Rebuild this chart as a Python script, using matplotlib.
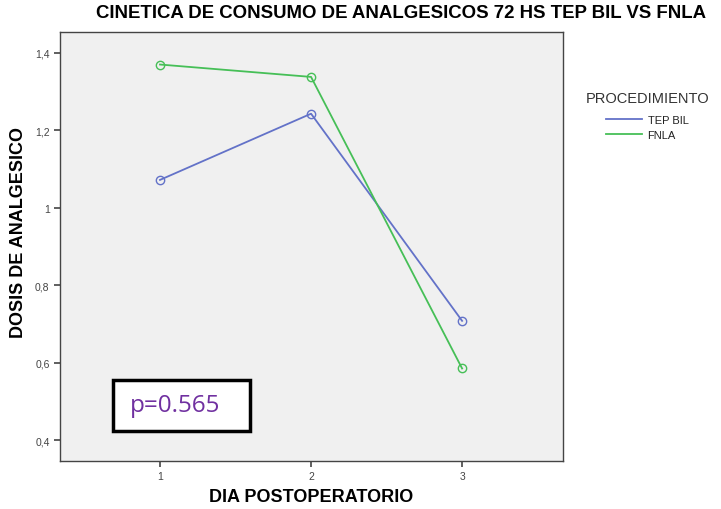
import matplotlib.pyplot as plt
from matplotlib.patches import Rectangle
from matplotlib.lines import Line2D

plt.rcParams['font.family'] = ['Liberation Sans', 'DejaVu Sans']

# Dosis media por dia postoperatorio
dias = [1, 2, 3]
tep_bil = [1.072, 1.243, 0.708]
fnla = [1.370, 1.338, 0.585]
y_ticks = [0.4, 0.6, 0.8, 1.0, 1.2, 1.4]
y_labels = ['0,4', '0,6', '0,8', '1', '1,2', '1,4']

azul = '#6372c8'
verde = '#46bf57'

fig = plt.figure(figsize=(7.21, 5.10), dpi=100)
ax = fig.add_axes([60 / 721, 1 - 462 / 510, 503 / 721, 429 / 510])
ax.set_facecolor('#f0f0f0')

ax.plot(dias, tep_bil, color=azul, lw=1.3, marker='o', ms=6,
        mfc='none', mec=azul, mew=1.0)
ax.plot(dias, fnla, color=verde, lw=1.3, marker='o', ms=6,
        mfc='none', mec=verde, mew=1.0)

ax.set_xlim(0.338, 3.668)
ax.set_ylim(0.346, 1.454)
ax.set_xticks(dias)
ax.set_xticklabels(['1', '2', '3'])
ax.set_yticks(y_ticks)
ax.set_yticklabels(y_labels)
ax.tick_params(labelsize=7.5, colors='#444444', length=4, width=1.2)
for s in ax.spines.values():
    s.set_color('#444444')
    s.set_linewidth(1.0)

ax.set_xlabel('DIA POSTOPERATORIO', fontsize=13, fontweight='bold', labelpad=5)
ax.set_ylabel('DOSIS DE ANALGESICO', fontsize=13, fontweight='bold')
ax.yaxis.set_label_coords(-0.066, 0.536)
fig.text(401 / 721, 1 - 14 / 510, 'CINETICA DE CONSUMO DE ANALGESICOS 72 HS TEP BIL VS FNLA',
         ha='center', va='center', fontsize=13.4, fontweight='bold')

handles = [Line2D([], [], color=azul, lw=1.3), Line2D([], [], color=verde, lw=1.3)]
leg = ax.legend(handles, ['TEP BIL', 'FNLA'], title='PROCEDIMIENTO', loc='upper left',
                bbox_to_anchor=(1.025, 0.885), frameon=False, fontsize=8,
                title_fontsize=10.5, handlelength=3.2, labelspacing=0.45,
                handletextpad=0.5)
leg._legend_box.align = 'center'
leg._legend_box.sep = 7
leg.get_title().set_color('#333333')
for t in leg.get_texts():
    t.set_color('#222222')

# recuadro con el valor p
ax.add_patch(Rectangle((113 / 721, 1 - 432 / 510), 137 / 721, 51 / 510,
                       transform=fig.transFigure, facecolor='white',
                       edgecolor='black', lw=2.5, zorder=5, clip_on=False))
fig.text(130 / 721, 1 - 406 / 510, 'p=0.565', color='#7030a0', fontsize=17.5,
         family=['Open Sans', 'DejaVu Sans'], va='center', ha='left', zorder=6)

fig.savefig('out.png', dpi=100)
